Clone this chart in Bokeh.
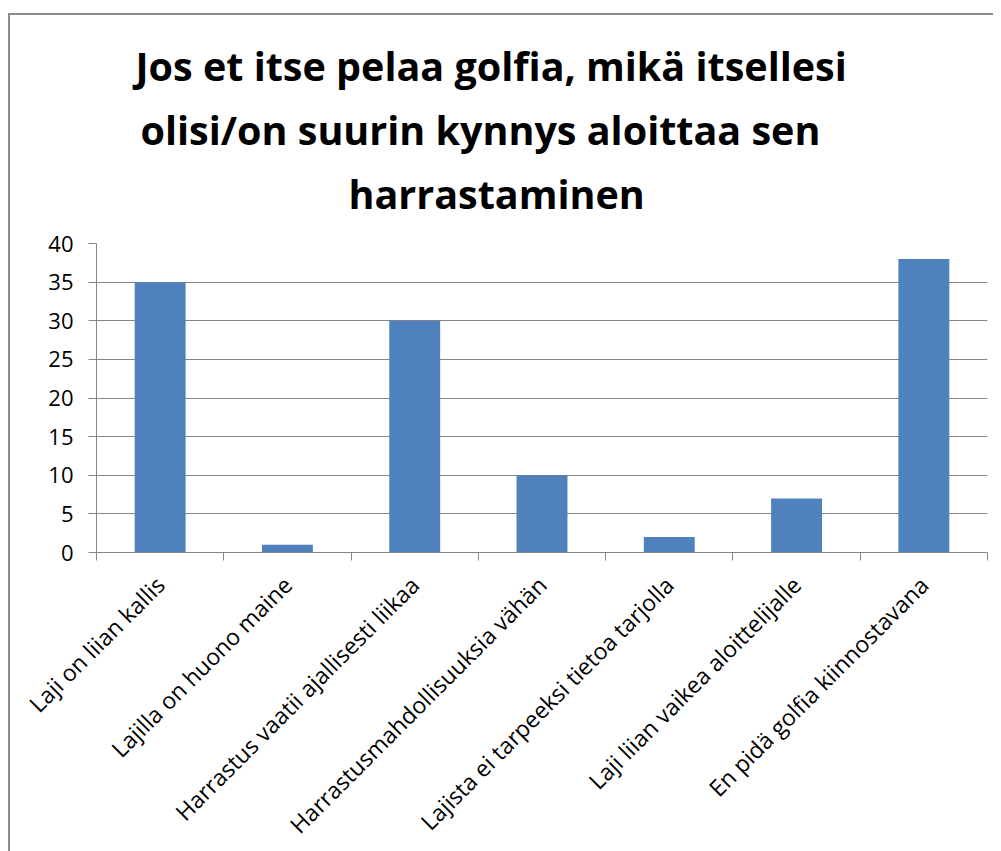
import math
from bokeh.plotting import figure
from bokeh.models import FixedTicker, Range1d, Title
from bokeh.embed import file_html
from bokeh.resources import INLINE

categories = [
    "Laji on liian kallis",
    "Lajilla on huono maine",
    "Harrastus vaatii ajallisesti liikaa",
    "Harrastusmahdollisuuksia vähän",
    "Lajista ei tarpeeksi tietoa tarjolla",
    "Laji liian vaikea aloittelijalle",
    "En pidä golfia kiinnostavana",
]
values = [35, 1, 30, 10, 2, 7, 38]
y_ticks = [0, 5, 10, 15, 20, 25, 30, 35, 40]
title_lines = [
    "Jos et itse pelaa golfia, mikä itsellesi",
    "olisi/on suurin kynnys aloittaa sen",
    "harrastaminen",
]
title_offsets = [39, 44, 252]

n = len(categories)
x_centers = [i + 0.5 for i in range(n)]
boundaries = list(range(n + 1))

GRAY = "#868686"
FONT = "Open Sans"

p = figure(
    frame_width=891, frame_height=309, title=None,
    x_range=Range1d(0, n), y_range=Range1d(0, max(y_ticks)),
    output_backend="svg", toolbar_location=None, tools="",
    min_border_left=86, min_border_right=6, min_border_top=228, min_border_bottom=10,
)
p.styles = {
    "border-left": "2px solid #8c8c8c",
    "border-top": "2px solid #8c8c8c",
    "margin-top": "13px",
    "margin-left": "8px",
}

p.vbar(x=x_centers, top=values, width=0.4, fill_color="#4F81BD", line_color=None)

# gap between the plot area and the title block
p.add_layout(Title(text=" ", text_font_size="1px", standoff=16), "above")

# title: stacked from the frame upwards, so the last line is added first
for line, off in reversed(list(zip(title_lines, title_offsets))):
    p.add_layout(Title(
        text=line, align="left", offset=off, standoff=8,
        text_font=FONT, text_font_size="39.5px", text_font_style="bold",
        text_color="black",
    ), "above")

p.outline_line_color = None
p.xgrid.visible = False
p.ygrid.ticker = FixedTicker(ticks=y_ticks)
p.ygrid.grid_line_color = GRAY
p.ygrid.grid_line_width = 1

ya = p.yaxis[0]
ya.ticker = FixedTicker(ticks=y_ticks)
ya.axis_line_color = GRAY
ya.major_tick_line_color = GRAY
ya.major_tick_out = 8
ya.major_tick_in = 0
ya.minor_tick_line_color = None
ya.major_label_text_font = FONT
ya.major_label_text_font_size = "22px"
ya.major_label_text_color = "black"
ya.major_label_standoff = 15

xa = p.xaxis[0]
xa.ticker = FixedTicker(ticks=x_centers, minor_ticks=boundaries)
xa.major_label_overrides = {x: c for x, c in zip(x_centers, categories)}
xa.axis_line_color = GRAY
xa.major_tick_out = 0
xa.major_tick_in = 0
xa.major_tick_line_color = None
xa.minor_tick_line_color = GRAY
xa.minor_tick_out = 8
xa.minor_tick_in = 0
xa.major_label_orientation = math.pi / 4
xa.major_label_text_font = FONT
xa.major_label_text_font_size = "23px"
xa.major_label_text_color = "black"
xa.major_label_standoff = 20

open("out.html", "w").write(file_html(p, INLINE))
